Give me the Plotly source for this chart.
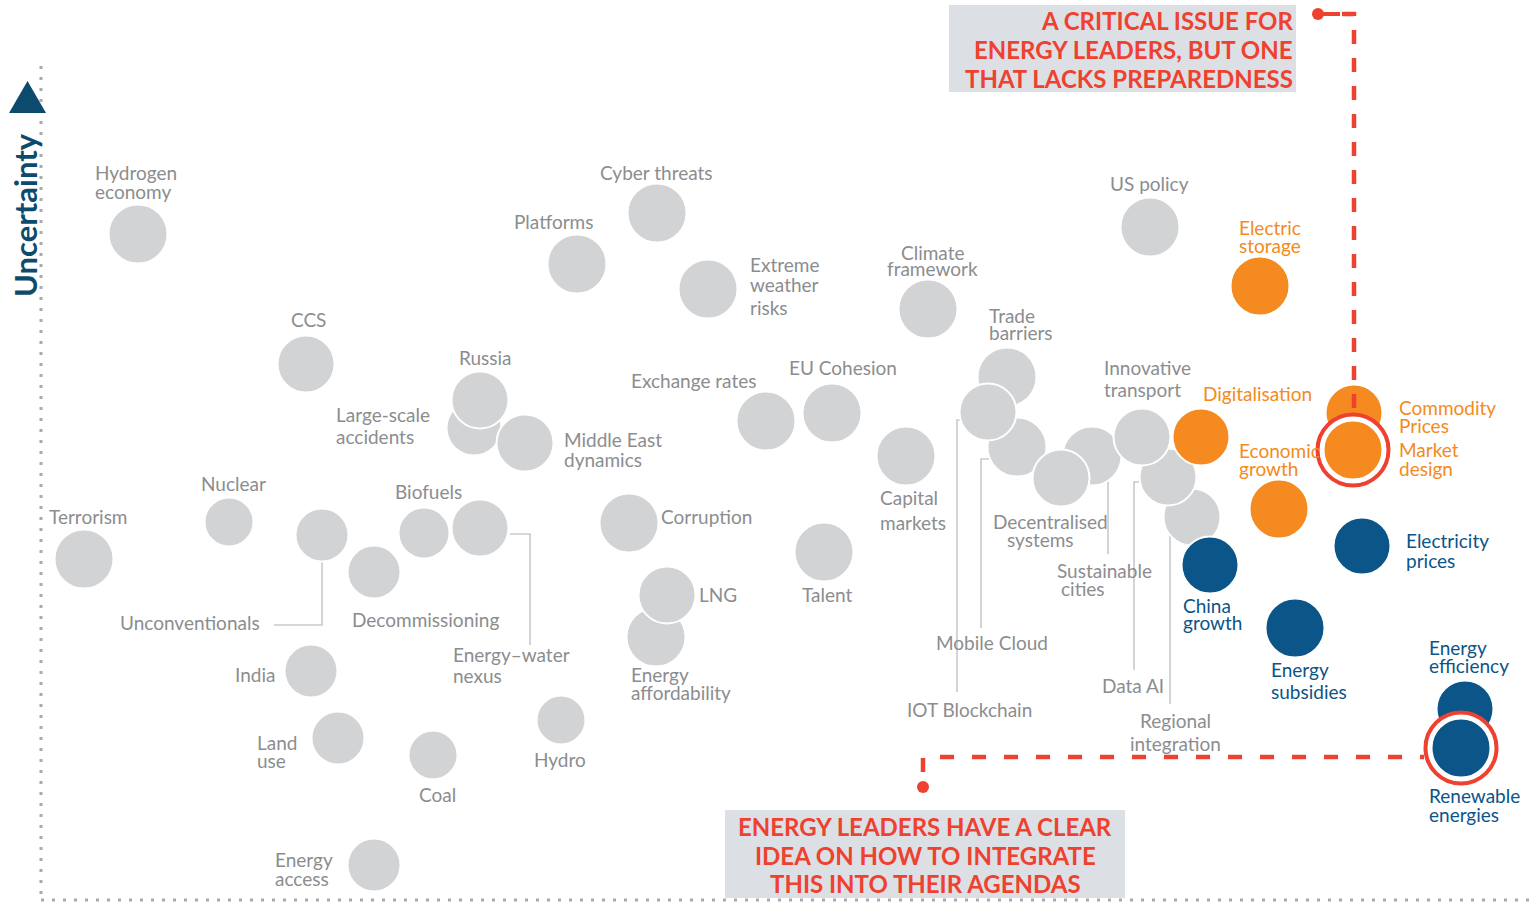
import plotly.graph_objects as go

W, H = 1534, 902

# ---------------- data (positions, in canvas units) -------------
grey_names = ["Hydrogen economy", "Cyber threats", "Platforms", "Extreme weather risks",
              "Climate framework", "US policy", "CCS", "Large-scale accidents", "Russia",
              "Middle East dynamics", "Exchange rates", "EU Cohesion", "Capital markets",
              "Corruption", "Talent", "Energy affordability", "LNG", "Trade barriers",
              "Mobile Cloud", "IOT Blockchain", "Sustainable cities", "Decentralised systems",
              "Regional integration", "Data AI", "Innovative transport",
              "Terrorism", "Nuclear", "Unconventionals", "Decommissioning", "Biofuels",
              "Energy–water nexus", "India", "Land use", "Coal", "Hydro", "Energy access"]
grey_x = [138, 657, 577, 708, 928, 1150, 306, 474, 480, 525, 766, 832, 906, 629, 824, 656, 667,
          1007, 1017, 988, 1092, 1061, 1192, 1168, 1142, 84, 229, 322, 374, 424, 480, 311, 338,
          433, 561, 374]
grey_y = [234, 213, 264, 289, 309, 227, 364, 428, 400, 443, 421, 413, 456, 523, 552, 637, 595,
          377, 447, 412, 456, 478, 517, 477, 437, 559, 522, 535, 572, 533, 528, 671, 738, 755,
          720, 865]
grey_r = [30, 30, 30, 30, 30, 30, 29, 28, 29, 29, 30, 30, 30, 30, 30, 30, 29, 30, 30, 29, 30, 29,
          29, 29, 29, 30, 25, 27, 27, 26, 29, 27, 27, 25, 25, 27]

orange_names = ["Electric storage", "Digitalisation", "Economic growth", "Commodity Prices"]
orange_x = [1260, 1201, 1279, 1354]
orange_y = [286, 437, 509, 413]
orange_r = [30, 29, 30, 29]

blue_names = ["Electricity prices", "China growth", "Energy subsidies", "Energy efficiency"]
blue_x = [1362, 1210, 1295, 1465]
blue_y = [546, 565, 628, 709]
blue_r = [29, 29, 30, 29]

key_names = ["Market design", "Renewable energies"]
key_x = [1353, 1461]
key_y = [450, 748]
key_r = [30, 30]

GREY, ORANGE, BLUE, RED, NAVY = "#d2d3d4", "#f48a20", "#0b5589", "#ee4130", "#0c4b6d"
GREY_TXT = "#8b8d8f"
LFS = 19

fig = go.Figure()


def bubbles(xs, ys, rs, names, color):
    fig.add_trace(go.Scatter(
        x=xs, y=ys, mode="markers", text=names, hoverinfo="text",
        marker=dict(size=[2 * r - 1 for r in rs], color=color,
                    line=dict(color="white", width=2), opacity=1),
        showlegend=False))


# connector lines (below bubbles)
connectors = [
    [(322, 562), (322, 625), (274, 625)],
    [(510, 534), (530, 534), (530, 645)],
    [(962, 420), (957, 420), (957, 692)],
    [(992, 459), (981, 459), (981, 628)],
    [(1108, 480), (1108, 554)],
    [(1142, 482), (1134, 482), (1134, 670)],
    [(1170, 532), (1170, 704)],
]
for pts in connectors:
    path = "M " + " L ".join(f"{px},{py}" for px, py in pts)
    fig.add_shape(type="path", path=path, line=dict(color="#c9cacb", width=1.6),
                  layer="below")

bubbles(grey_x, grey_y, grey_r, grey_names, GREY)
bubbles(orange_x, orange_y, orange_r, orange_names, ORANGE)
bubbles(blue_x, blue_y, blue_r, blue_names, BLUE)
# highlight rings
fig.add_trace(go.Scatter(x=key_x, y=key_y, mode="markers", hoverinfo="skip",
                         marker=dict(size=71, color="white", line=dict(color=RED, width=4)),
                         showlegend=False))
bubbles(key_x, key_y, key_r, key_names, [ORANGE, BLUE])

# ---------------- labels -------------
# (lines, x, y of each line, anchor, color)
labels = [
    (["Hydrogen", "economy"], 93, [172, 191], "left", GREY_TXT),
    (["Cyber threats"], 656, [172], "center", GREY_TXT),
    (["Platforms"], 553, [221], "center", GREY_TXT),
    (["Extreme", "weather", "risks"], 748, [264, 284, 307], "left", GREY_TXT),
    (["Climate", "framework"], 932, [252, 268], "center", GREY_TXT),
    (["US policy"], 1149, [183], "center", GREY_TXT),
    (["CCS"], 308, [319], "center", GREY_TXT),
    (["Russia"], 485, [357], "center", GREY_TXT),
    (["Large-scale", "accidents"], 334, [414, 436], "left", GREY_TXT),
    (["Middle East", "dynamics"], 562, [439, 459], "left", GREY_TXT),
    (["Exchange rates"], 693, [380], "center", GREY_TXT),
    (["EU Cohesion"], 843, [367], "center", GREY_TXT),
    (["Trade", "barriers"], 987, [315, 332], "left", GREY_TXT),
    (["Innovative", "transport"], 1102, [367, 389], "left", GREY_TXT),
    (["Capital", "markets"], 878, [497, 522], "left", GREY_TXT),
    (["Nuclear"], 233, [483], "center", GREY_TXT),
    (["Biofuels"], 428, [491], "center", GREY_TXT),
    (["Terrorism"], 47, [516], "left", GREY_TXT),
    (["Corruption"], 659, [516], "left", GREY_TXT),
    (["Decentralised"], 1050, [521], "center", GREY_TXT),
    (["systems"], 1040, [539], "center", GREY_TXT),
    (["Sustainable"], 1104, [570], "center", GREY_TXT),
    (["cities"], 1083, [588], "center", GREY_TXT),
    (["LNG"], 697, [594], "left", GREY_TXT),
    (["Talent"], 827, [594], "center", GREY_TXT),
    (["Unconventionals"], 262, [622], "right", GREY_TXT),
    (["Decommissioning"], 350, [619], "left", GREY_TXT),
    (["Energy–water", "nexus"], 451, [654, 675], "left", GREY_TXT),
    (["India"], 277, [674], "right", GREY_TXT),
    (["Energy", "affordability"], 629, [674, 692], "left", GREY_TXT),
    (["Mobile Cloud"], 992, [642], "center", GREY_TXT),
    (["Data AI"], 1133, [685], "center", GREY_TXT),
    (["IOT Blockchain"], 969, [709], "center", GREY_TXT),
    (["Regional", "integration"], 1175, [720, 743], "center", GREY_TXT),
    (["Land", "use"], 255, [742, 760], "left", GREY_TXT),
    (["Hydro"], 560, [759], "center", GREY_TXT),
    (["Coal"], 437, [794], "center", GREY_TXT),
    (["Energy", "access"], 273, [859, 878], "left", GREY_TXT),
    (["Electric", "storage"], 1237, [227, 245], "left", ORANGE),
    (["Digitalisation"], 1201, [393], "left", ORANGE),
    (["Commodity", "Prices"], 1397, [407, 425], "left", ORANGE),
    (["Economic", "growth"], 1237, [450, 468], "left", ORANGE),
    (["Market", "design"], 1397, [449, 468], "left", ORANGE),
    (["Electricity", "prices"], 1404, [540, 560], "left", BLUE),
    (["China", "growth"], 1181, [605, 622], "left", BLUE),
    (["Energy", "subsidies"], 1269, [669, 691], "left", BLUE),
    (["Energy", "efficiency"], 1427, [647, 665], "left", BLUE),
    (["Renewable", "energies"], 1427, [795, 814], "left", BLUE),
]
for lines, lx, ys, anchor, col in labels:
    for t, ly in zip(lines, ys):
        fig.add_annotation(x=lx, y=ly, text=t, showarrow=False, xanchor=anchor,
                           yanchor="middle", font=dict(family="Lato", size=LFS, color=col))

# ---------------- callouts -------------
fig.add_shape(type="rect", x0=949, x1=1296, y0=5, y1=92, fillcolor="#dce0e4",
              line=dict(width=0), layer="below")
fig.add_shape(type="rect", x0=725, x1=1125, y0=810, y1=898, fillcolor="#dce0e4",
              line=dict(width=0), layer="below")
top_lines = ["A CRITICAL ISSUE FOR", "ENERGY LEADERS, BUT ONE", "THAT LACKS PREPAREDNESS"]
for t, ly in zip(top_lines, [20, 49, 78]):
    fig.add_annotation(x=1295, y=ly, text=t, showarrow=False, xanchor="right", yanchor="middle",
                       font=dict(family="Lato", size=24, color=RED, weight="bold"))
bot_lines = ["ENERGY LEADERS HAVE A CLEAR", "IDEA ON HOW TO INTEGRATE", "THIS INTO THEIR AGENDAS"]
for t, ly in zip(bot_lines, [826, 855, 883]):
    fig.add_annotation(x=925, y=ly, text=t, showarrow=False, xanchor="center", yanchor="middle",
                       font=dict(family="Lato", size=24, color=RED, weight="bold"))

DASH = "14px,14px"
fig.add_shape(type="line", x0=1318, y0=14, x1=1340, y1=14, line=dict(color=RED, width=4))
fig.add_shape(type="path", path="M 1342,14 L 1354,14 L 1354,418",
              line=dict(color=RED, width=4.5, dash=DASH))
fig.add_shape(type="path", path="M 923,772 L 923,757 L 1424,757",
              line=dict(color=RED, width=4.5, dash="14px,18px"))
fig.add_trace(go.Scatter(x=[1318, 923], y=[14, 787], mode="markers", hoverinfo="skip",
                         marker=dict(size=12, color=RED), showlegend=False))

# ---------------- axes -------------
fig.add_shape(type="line", x0=41, y0=66, x1=41, y1=900,
              line=dict(color="#a8aaad", width=3, dash="3px,8px"))
fig.add_shape(type="line", x0=41, y0=900, x1=1534, y1=900,
              line=dict(color="#a8aaad", width=3, dash="3px,8px"))
fig.add_shape(type="path", path="M 9,113 L 46,113 L 27.5,81 Z", fillcolor=NAVY,
              line=dict(width=0))
fig.add_annotation(x=25, y=215, text="Uncertainty", textangle=-90, showarrow=False,
                   xanchor="center", yanchor="middle",
                   font=dict(family="Lato", size=31, color=NAVY, weight="bold"))

fig.update_layout(
    width=W, height=H, margin=dict(l=0, r=0, t=0, b=0),
    paper_bgcolor="white", plot_bgcolor="white",
    xaxis=dict(range=[0, W], visible=False, fixedrange=True),
    yaxis=dict(range=[H, 0], visible=False, fixedrange=True),
    showlegend=False,
)

fig.write_html("out.html", config={"displayModeBar": False},
               post_script="document.body.style.margin='0';document.body.style.overflow='hidden';")
